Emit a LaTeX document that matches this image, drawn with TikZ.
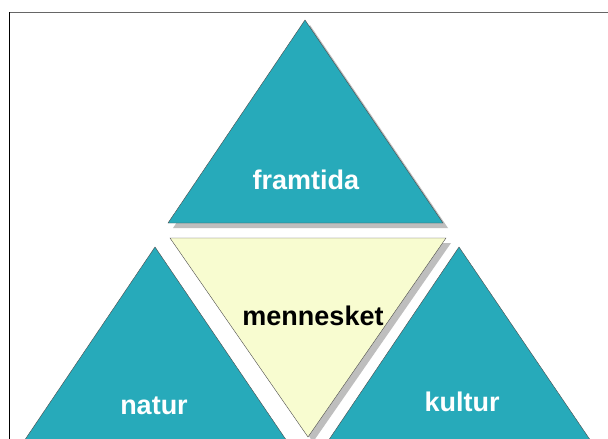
\documentclass[tikz,border=0pt]{standalone}
\usepackage{fontspec}
\setmainfont{Liberation Sans}
\usepackage{xcolor}
\definecolor{teal1}{RGB}{39,170,186}
\definecolor{pale}{RGB}{248,252,208}
\definecolor{shade}{RGB}{190,190,190}
\tikzset{
  tri/.style={fill=teal1, draw=black!70, thin},
  mid/.style={fill=pale, draw=black!70, thin},
  shad/.style={fill=shade, draw=none},
  word/.style={font=\fontsize{27}{30}\selectfont\bfseries, text=white}
}

\begin{document}
\begin{tikzpicture}[x=1pt,y=-1pt]
\useasboundingbox (0,0) rectangle (608,439);
\fill[white] (0,0) rectangle (608,439);
\draw [black!60] (9,12) -- (608,12);
\draw [black] (9,12) -- (9,439);
% shadows
\fill [shad] (173,228) -- (310,25) -- (448,228) -- cycle;
\fill [shad] (175,243) -- (451,243) -- (313,442) -- cycle;
% triangles
\draw [tri] (168,223) -- (305,20) -- (443,223) -- cycle;
\draw [mid] (170,238) -- (446,238) -- (308,437) -- cycle;
\draw [tri] (18,450) -- (155,247) -- (293,450) -- cycle;
\draw [tri] (322,450) -- (459,247) -- (597,450) -- cycle;
% labels
\node [word] (v1) at (306,180) {framtida};
\node [word, text=black] (v2) at (313,316) {mennesket};
\node [word] (v3) at (154,406) {natur};
\node [word] (v4) at (462,402) {kultur};
\end{tikzpicture}
\end{document}
